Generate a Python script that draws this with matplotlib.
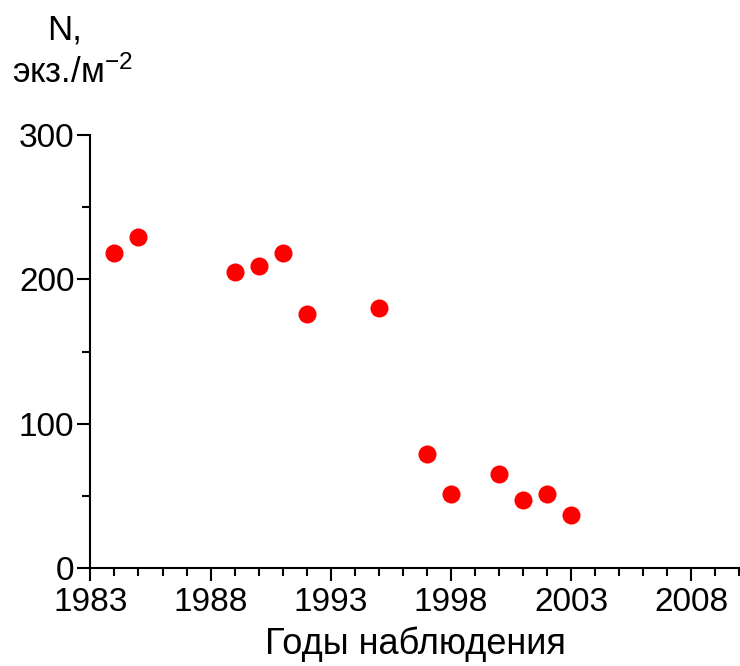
import matplotlib
matplotlib.use("Agg")
import matplotlib.pyplot as plt
from matplotlib.ticker import MultipleLocator

plt.rcParams['font.family'] = ['Liberation Sans', 'DejaVu Sans']
plt.rcParams['mathtext.fontset'] = 'custom'
plt.rcParams['mathtext.rm'] = 'Liberation Sans'
plt.rcParams['mathtext.default'] = 'regular'

# Численность по годам наблюдений
years = [1984, 1985, 1989, 1990, 1991, 1992, 1995, 1997, 1998, 2000, 2001, 2002, 2003]
density = [218, 229, 205, 209, 218, 176, 180, 79, 51, 65, 47, 51, 37]

x_ticks = [1983, 1988, 1993, 1998, 2003, 2008]
y_ticks = [0, 100, 200, 300]

fig = plt.figure(figsize=(7.4, 6.66), dpi=100)
ax = fig.add_axes([0.1222, 0.1471, 0.8778, 0.6502])

ax.plot(years, density, 'o', color='#ff0000', markersize=13, markeredgewidth=0,
        clip_on=False)

ax.set_xlim(1983, 2010.03)
ax.set_ylim(0, 300)
ax.set_xticks(x_ticks)
ax.set_yticks(y_ticks)
ax.xaxis.set_minor_locator(MultipleLocator(1))
ax.yaxis.set_minor_locator(MultipleLocator(50))

for side in ('top', 'right'):
    ax.spines[side].set_visible(False)
for side in ('left', 'bottom'):
    ax.spines[side].set_linewidth(1.5)

ax.tick_params(which='major', direction='out', length=9.5, width=1.5,
               labelsize=24, pad=2, colors='black')
ax.tick_params(axis='x', which='major', pad=4)
ax.tick_params(which='minor', direction='out', length=5.5, width=1.5)

ax.set_xlabel('Годы наблюдения', fontsize=26, labelpad=6)

fig.text(65 / 740, 1 - 30 / 666, 'N,', fontsize=25, ha='center', va='center')
fig.text(72 / 740, 1 - 73 / 666, 'экз./м$^{-2}$', fontsize=25, ha='center', va='center')

fig.savefig('out.png', dpi=100)
